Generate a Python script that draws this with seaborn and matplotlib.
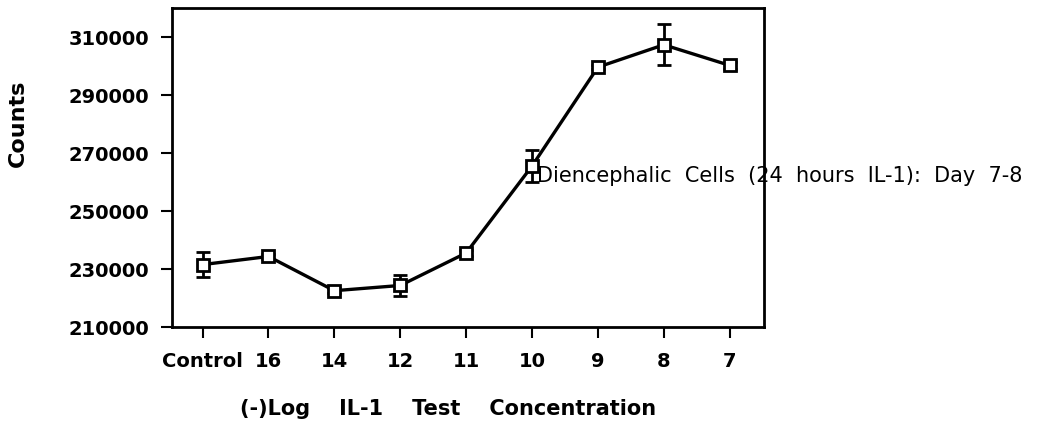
"""IL-1 dose response: diencephalic cell counts, day 7-8."""
import matplotlib

matplotlib.use("Agg")
import matplotlib.pyplot as plt
import numpy as np
import pandas as pd
import seaborn as sns

CONC_LABELS = ["Control", "16", "14", "12", "11", "10", "9", "8", "7"]
COUNTS = [231500, 234300, 222500, 224300, 235500, 265500, 299600, 307300, 300200]
ERR = [4200, 1000, 800, 3700, 1200, 5500, 800, 7000, 1200]
Y_TICKS = [210000, 230000, 250000, 270000, 290000, 310000]

sns.set_style("ticks")
plt.rcParams["font.family"] = ["DejaVu Sans"]
plt.rcParams.update({"text.color": "black", "axes.labelcolor": "black",
                     "xtick.color": "black", "ytick.color": "black"})

df = pd.DataFrame({"pos": np.arange(len(CONC_LABELS)), "counts": COUNTS, "err": ERR})

fig = plt.figure(figsize=(10.53, 4.27), dpi=100)
ax = fig.add_axes([0.163, 0.232, 0.5625, 0.747])

ax.errorbar(df["pos"], df["counts"], yerr=df["err"], fmt="none", ecolor="black",
            elinewidth=2, capsize=5, capthick=2, zorder=2)
sns.lineplot(data=df, x="pos", y="counts", color="black", lw=2.4, marker="s",
             markersize=8, markerfacecolor="white", markeredgecolor="black",
             markeredgewidth=2, ax=ax, zorder=3)

ax.set_xlim(-0.47, 8.52)
ax.set_ylim(210000, 320000)
ax.set_xticks(df["pos"])
ax.set_xticklabels(CONC_LABELS)
ax.set_yticks(Y_TICKS)
ax.set_yticklabels([str(v) for v in Y_TICKS])
for lab in ax.get_xticklabels() + ax.get_yticklabels():
    lab.set_fontweight("bold")
    lab.set_fontsize(14)

ax.tick_params(axis="both", direction="out", length=8, width=1.5)
ax.tick_params(axis="y", pad=8)
ax.tick_params(axis="x", pad=9)
for s in ax.spines.values():
    s.set_linewidth(2)
    s.set_color("black")

ax.set_xlabel("(-)Log    IL-1    Test    Concentration", fontsize=15, fontweight="bold",
              va="top")
ax.xaxis.set_label_coords(0.466, -0.222)
ax.set_ylabel("Counts", fontsize=16, fontweight="bold")
ax.yaxis.set_label_coords(-0.243, 0.643)

ax.text(5.08, 262500, "Diencephalic  Cells  (24  hours  IL-1):  Day  7-8", fontsize=15,
        va="center", ha="left", clip_on=False, zorder=4)

fig.savefig("out.png", dpi=100)
